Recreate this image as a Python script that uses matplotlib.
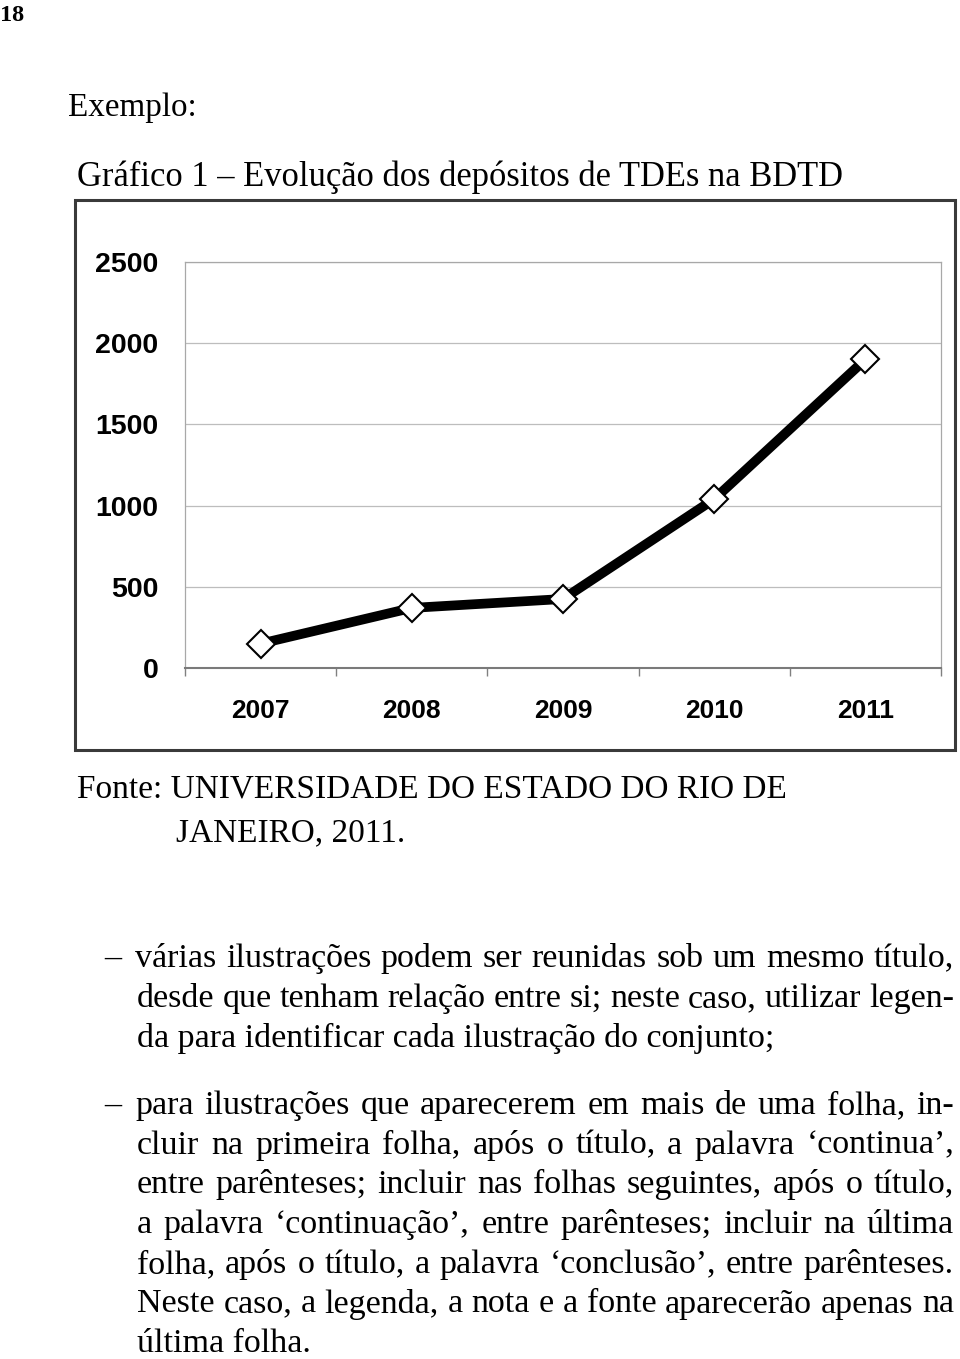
import numpy as np
import matplotlib.pyplot as plt
from matplotlib.patches import Rectangle

W, H = 960, 1359

# chart data
anos = ['2007', '2008', '2009', '2010', '2011']
depositos = [150, 370, 425, 1040, 1900]
y_ticks = [0, 500, 1000, 1500, 2000, 2500]

# page text
page_number = '18'
intro = 'Exemplo:'
titulo = 'Gráfico 1 – Evolução dos depósitos de TDEs na BDTD'
fonte = ['Fonte: UNIVERSIDADE DO ESTADO DO RIO DE', 'JANEIRO, 2011.']
paragrafo_1 = ['várias ilustrações podem ser reunidas sob um mesmo título,',
               'desde que tenham relação entre si; neste caso, utilizar legen-',
               'da para identificar cada ilustração do conjunto;']
paragrafo_2 = ['para ilustrações que aparecerem em mais de uma folha, in-',
               'cluir na primeira folha, após o título, a palavra ‘continua’,',
               'entre parênteses; incluir nas folhas seguintes, após o título,',
               'a palavra ‘continuação’, entre parênteses; incluir na última',
               'folha, após o título, a palavra ‘conclusão’, entre parênteses.',
               'Neste caso, a legenda, a nota e a fonte aparecerão apenas na',
               'última folha.']

SERIF = 'Liberation Serif'
SANS = 'Liberation Sans'
BODY = 24.5

fig = plt.figure(figsize=(W / 100, H / 100), dpi=100, facecolor='white')
renderer = fig.canvas.get_renderer()


def fx(x):
    return x / W


def fy(y):
    return 1 - y / H


def measure(s, size, **kw):
    t = fig.text(0, 0, s, fontsize=size, family=SERIF, **kw)
    w = t.get_window_extent(renderer).width
    t.remove()
    return w


def put(s, x, base, size, **kw):
    fig.text(fx(x), fy(base), s, fontsize=size, family=SERIF,
             va='baseline', ha='left', **kw)


def put_fit(s, x0, x1, base, **kw):
    size = 20 * (x1 - x0) / measure(s, 20, **kw)
    put(s, x0, base, size, **kw)
    return size


def put_justified(s, x0, x1, base, size):
    words = s.split(' ')
    widths = [measure(w, size) for w in words]
    gap = (x1 - x0 - sum(widths)) / (len(words) - 1)
    x = x0
    for w, wd in zip(words, widths):
        put(w, x, base, size)
        x += wd + gap


def put_paragraph(lines, top_base, size, step=40):
    put('–', 104, top_base, size)
    for i, line in enumerate(lines):
        x0 = 135 if i == 0 else 137
        base = top_base + i * step
        if i == len(lines) - 1:
            put(line, x0, base, size)
        else:
            put_justified(line, x0, 954, base, size)


## PAGE TEXT ##
put(page_number, 0, 21, 17.5, fontweight='bold')
put_fit(intro, 68, 197, 116)
put_fit(titulo, 77, 843, 186)
fsize = put_fit(fonte[0], 77, 785, 797)
put(fonte[1], 176, 841, fsize)
put_paragraph(paragrafo_1, 967, BODY)
put_paragraph(paragrafo_2, 1114, BODY, step=39.7)

## CHART FRAME ##
fig.add_artist(Rectangle((fx(75), fy(750)), 880 / W, 550 / H,
                         transform=fig.transFigure, fill=False,
                         lw=2.2, ec='#3a3a3a'))

## CHART ##
ax = fig.add_axes([fx(185), fy(668), (941 - 185) / W, (668 - 262) / H])
x = np.arange(len(anos)) + 0.5
ax.plot(x, depositos, color='black', lw=7, solid_capstyle='butt', zorder=3)
ax.plot(x, depositos, ls='none', marker='D', ms=14, mfc='white',
        mec='black', mew=1.5, zorder=4, clip_on=False)

ax.set_xlim(0, len(anos))
ax.set_ylim(0, 2500)
ax.set_yticks(y_ticks)
ax.set_yticklabels([str(v) for v in y_ticks], fontfamily=SANS,
                   fontweight='bold', fontsize=20.5)
ax.tick_params(axis='y', length=0, pad=19)

ax.set_xticks(np.arange(len(anos) + 1))
ax.set_xticklabels([])
ax.set_xticks(x, minor=True)
ax.set_xticklabels(anos, minor=True, fontfamily=SANS, fontweight='bold',
                   fontsize=19)
ax.tick_params(axis='x', which='major', length=6, width=1, color='#808080',
               direction='out')
ax.tick_params(axis='x', which='minor', length=0, pad=22)

ax.yaxis.grid(True, color='#bdbdbd', lw=0.9)
ax.set_axisbelow(True)
for side in ['left', 'right', 'top']:
    ax.spines[side].set_color('#a8a8a8')
    ax.spines[side].set_linewidth(0.9)
ax.spines['bottom'].set_color('#7a7a7a')
ax.spines['bottom'].set_linewidth(1.5)

plt.savefig('out.png', dpi=100, facecolor='white')
